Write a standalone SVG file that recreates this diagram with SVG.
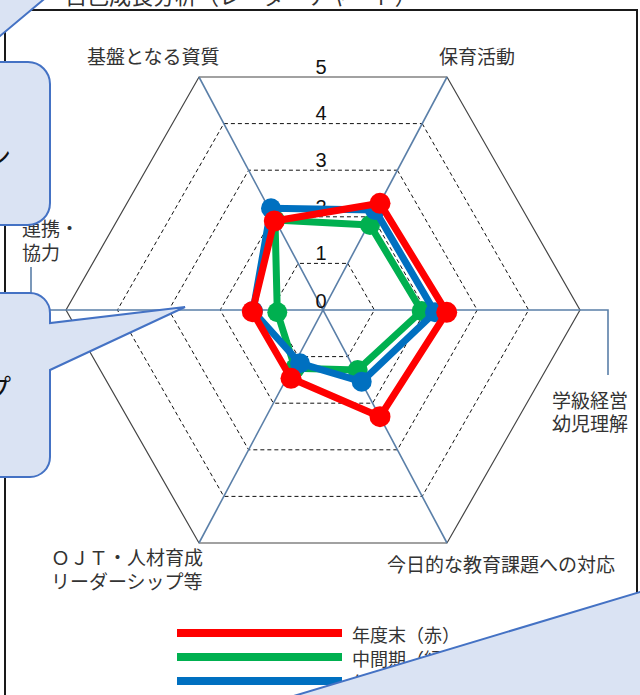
<svg xmlns="http://www.w3.org/2000/svg" width="640" height="695" viewBox="0 0 640 695">
  <style>
    .lbl { font-family: "Noto Sans CJK JP", "Noto Sans", sans-serif; font-size: 19px; fill: #333; }
    .num { font-family: "Liberation Sans", Arial, sans-serif; font-size: 20px; fill: #111; text-anchor: middle; }
    .ring { fill: none; stroke: #111; stroke-width: 1; stroke-dasharray: 4 3; }
    .outer { fill: none; stroke: #444; stroke-width: 1.2; }
    .axis { fill: none; stroke: #5a7fa8; stroke-width: 1.6; }
    .series { fill: none; stroke-width: 7; stroke-linejoin: round; }
    .call { fill: #dae3f3; stroke: #4472c4; stroke-width: 2; }
    .ctext { font-family: "Noto Sans CJK JP", sans-serif; font-size: 26px; fill: #111; text-anchor: end; }
  </style>
  <rect x="0" y="0" width="640" height="695" fill="#fff"/>

  <g id="title">
    <text class="lbl" x="65" y="4" style="font-size:22px">自己成長分析（レーダーチャート）</text>
  </g>

  <g id="frame">
    <polyline points="5,700 5,10 637,10 637,700" fill="none" stroke="#1a1a1a" stroke-width="2"/>
  </g>

  <g id="grid">
    <polygon class="ring" points="347.8,263.4 374.4,310 347.8,356.6 298.2,356.6 271.6,310 298.2,263.4"/>
    <polygon class="ring" points="372.6,216.8 425.8,310 372.6,403.2 273.4,403.2 220.2,310 273.4,216.8"/>
    <polygon class="ring" points="397.4,170.2 477.2,310 397.4,449.8 248.6,449.8 168.8,310 248.6,170.2"/>
    <polygon class="ring" points="422.2,123.6 528.6,310 422.2,496.4 223.8,496.4 117.4,310 223.8,123.6"/>
    <polygon class="outer" points="447,77 580,310 447,543 199,543 66,310 199,77"/>
  </g>

  <g id="connectors">
    <polyline class="axis" points="31,267 31,310 608,310 608,375"/>
    <line class="axis" x1="199" y1="77" x2="447" y2="543"/>
    <line class="axis" x1="447" y1="77" x2="199" y2="543"/>
  </g>

  <g id="scale">
    <text class="num" x="321" y="74">5</text>
    <text class="num" x="321" y="120">4</text>
    <text class="num" x="321" y="167">3</text>
    <text class="num" x="321" y="214">2</text>
    <text class="num" x="321" y="260">1</text>
    <text class="num" x="321" y="308">0</text>
  </g>

  <g id="axis-labels">
    <text class="lbl" x="87" y="64">基盤となる資質</text>
    <text class="lbl" x="439" y="64">保育活動</text>
    <text class="lbl" x="552" y="408">学級経営</text>
    <text class="lbl" x="552" y="431">幼児理解</text>
    <text class="lbl" x="387" y="572">今日的な教育課題への対応</text>
    <text class="lbl" x="51" y="565">ＯＪＴ・人材育成</text>
    <text class="lbl" x="51" y="589">リーダーシップ等</text>
    <text class="lbl" x="22" y="236">連携・</text>
    <text class="lbl" x="22" y="260">協力</text>
  </g>

  <g id="series-green" fill="#00b050">
    <polygon class="series" stroke="#00b050" points="275,220 370,225 421.7,311 357.7,370 295,368.3 277.3,312.3"/>
    <circle cx="275" cy="220" r="10"/><circle cx="370" cy="225" r="10"/><circle cx="421.7" cy="311" r="10"/>
    <circle cx="357.7" cy="370" r="10"/><circle cx="295" cy="368.3" r="10"/><circle cx="277.3" cy="312.3" r="10"/>
  </g>
  <g id="series-blue" fill="#0070c0">
    <polygon class="series" stroke="#0070c0" points="271,208.3 375,210 435,312.3 361.7,381.7 300,363.3 253,311"/>
    <circle cx="271" cy="208.3" r="10"/><circle cx="375" cy="210" r="10"/><circle cx="435" cy="312.3" r="10"/>
    <circle cx="361.7" cy="381.7" r="10"/><circle cx="300" cy="363.3" r="10"/><circle cx="253" cy="311" r="10"/>
  </g>
  <g id="series-red" fill="#ff0000">
    <polygon class="series" stroke="#ff0000" points="274.3,221 380,203.3 446.7,312.3 380,416.7 291,378.3 252.3,311.7"/>
    <circle cx="274.3" cy="221" r="10.5"/><circle cx="380" cy="203.3" r="10.5"/><circle cx="446.7" cy="312.3" r="10.5"/>
    <circle cx="380" cy="416.7" r="10.5"/><circle cx="291" cy="378.3" r="10.5"/><circle cx="252.3" cy="311.7" r="10.5"/>
  </g>

  <g id="legend">
    <rect x="177" y="629" width="165" height="8" fill="#ff0000"/>
    <rect x="177" y="653" width="165" height="8" fill="#00b050"/>
    <rect x="177" y="677" width="165" height="8" fill="#0070c0"/>
    <text class="lbl" x="352" y="642" style="font-size:18px">年度末（赤）</text>
    <text class="lbl" x="352" y="666" style="font-size:18px">中間期（緑）</text>
    <text class="lbl" x="352" y="690" style="font-size:18px">年度当初（青）</text>
  </g>

  <g id="callout-top">
    <polygon class="call" points="46.6,-3 -3,38.5 -3,-3"/>
  </g>
  <g id="callout-1">
    <path class="call" d="M -30,62 H 28 A 22 22 0 0 1 50,84 V 203 A 22 22 0 0 1 28,225 H -30 Z"/>
    <text class="ctext" x="11" y="166">ン</text>
  </g>
  <g id="callout-2">
    <path class="call" d="M -30,293 H 30 A 20 20 0 0 1 50,313 V 323 L 185,307 L 50,370 V 457 A 20 20 0 0 1 30,477 H -30 Z"/>
    <text class="ctext" x="11" y="398">プ</text>
  </g>
  <g id="callout-3">
    <polygon class="call" points="290,697.1 645,590.5 645,700 290,700"/>
  </g>
</svg>
